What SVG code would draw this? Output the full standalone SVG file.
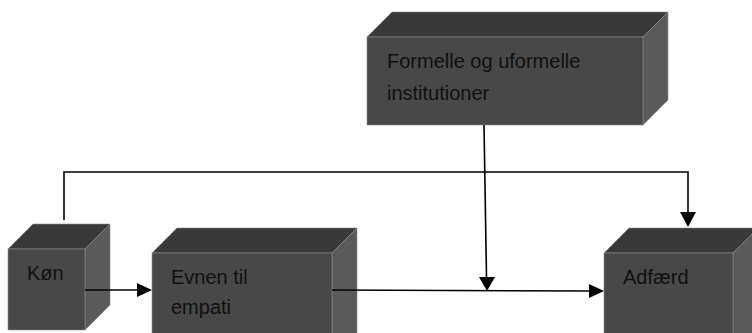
<svg xmlns="http://www.w3.org/2000/svg" width="752" height="333" viewBox="0 0 752 333">
<style>
.front{fill:#484848;stroke:#8a8a8a;stroke-width:0.6}
.top{fill:#393939;stroke:#8a8a8a;stroke-width:0.6}
.side{fill:#5a5a5a;stroke:#8a8a8a;stroke-width:0.6}
.lbl{font-family:"Liberation Sans",Arial,sans-serif;font-size:20px;fill:#111}
.conn{fill:none;stroke:#000;stroke-width:1.6}
.head{fill:#000}
</style>
<rect width="752" height="333" fill="#fff"/>
<g id="formelle">
<polygon class="top" points="367,37 392,12 668,12 643,37"/>
<polygon class="side" points="643,37 668,12 668,100 643,125"/>
<rect class="front" x="367" y="37" width="276" height="88"/>
<text class="lbl" x="387" y="68">Formelle og uformelle</text>
<text class="lbl" x="387" y="100">institutioner</text>
</g>
<g id="kon">
<polygon class="top" points="8,249 33,224 110,224 85,249"/>
<polygon class="side" points="85,249 110,224 110,305 85,330"/>
<rect class="front" x="8" y="249" width="77" height="81"/>
<text class="lbl" x="27" y="280">Køn</text>
</g>
<g id="evnen">
<polygon class="top" points="152,253 177,228 357,228 332,253"/>
<polygon class="side" points="332,253 357,228 357,333 332,340"/>
<rect class="front" x="152" y="253" width="180" height="85"/>
<text class="lbl" x="171" y="284">Evnen til</text>
<text class="lbl" x="171" y="314">empati</text>
</g>
<g id="adfaerd">
<polygon class="top" points="604,253 629,228 758,228 733,253"/>
<polygon class="side" points="733,253 758,228 758,333 733,340"/>
<rect class="front" x="604" y="253" width="129" height="85"/>
<text class="lbl" x="623" y="284">Adfærd</text>
</g>
<g id="connectors">
<path class="conn" d="M64,220 L64,172 L688,172 L688,212"/>
<path class="head" d="M680,212 L696,212 L688,227 Z"/>
<path class="conn" d="M484,125 L486.5,277"/>
<path class="head" d="M479,277 L495,277 L487,291 Z"/>
<path class="conn" d="M85,290 L137,290"/>
<path class="head" d="M137,283 L152,290 L137,297 Z"/>
<path class="conn" d="M332,290 L589,291"/>
<path class="head" d="M589,284 L604,291 L589,298 Z"/>
</g>
</svg>
